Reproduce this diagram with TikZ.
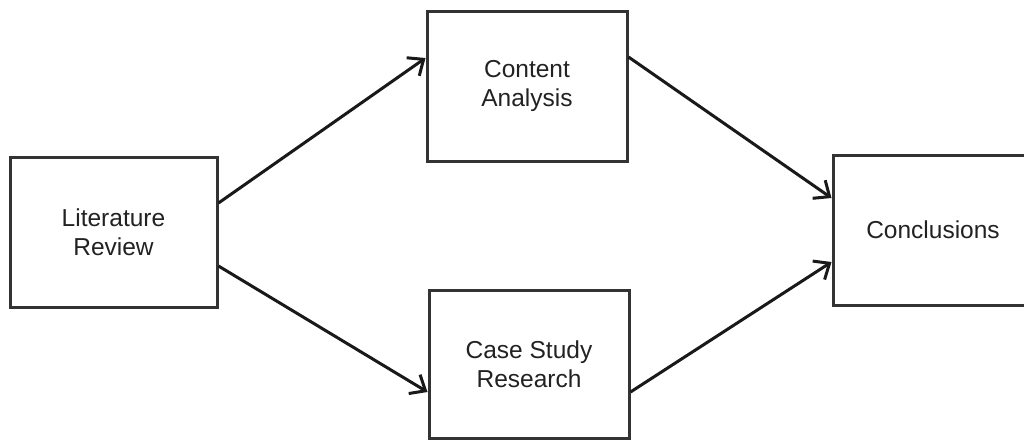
\documentclass[tikz,border=0pt]{standalone}
\usepackage{fontspec}
\setmainfont{Liberation Sans}
\usetikzlibrary{arrows.meta}
\definecolor{boxline}{HTML}{333333}
\definecolor{txt}{HTML}{222222}
\tikzset{
  stepbox/.style={draw=boxline, line width=3pt, fill=white, minimum width=200pt, minimum height=150pt, align=center, inner sep=0pt, font=\fontsize{24.5}{29}\selectfont, text=txt},
  conn/.style={line width=3pt, draw=black!90, -{Straight Barb[length=13pt,width=22pt,line width=3pt]}}
}
\begin{document}
\begin{tikzpicture}[x=1pt,y=-1pt]
\useasboundingbox[fill=white] (0,0) rectangle (1024,440);
\node[stepbox, minimum width=207pt] (lit) at (113.5,232) {Literature\\Review};
\node[stepbox] (ca) at (527,86) {Content\\Analysis};
\node[stepbox, minimum height=148pt] (cs) at (529,364) {Case Study\\Research};
\node[stepbox] (con) at (933,230) {Conclusions};
\draw[conn] ([yshift=29pt]lit.east) -- ([yshift=28pt]ca.west);
\draw[conn] ([yshift=-34pt]lit.east) -- ([yshift=-28pt]cs.west);
\draw[conn] ([yshift=29pt]ca.east) -- ([yshift=32pt]con.west);
\draw[conn] ([yshift=-28pt]cs.east) -- ([yshift=-32pt]con.west);
\end{tikzpicture}
\end{document}
